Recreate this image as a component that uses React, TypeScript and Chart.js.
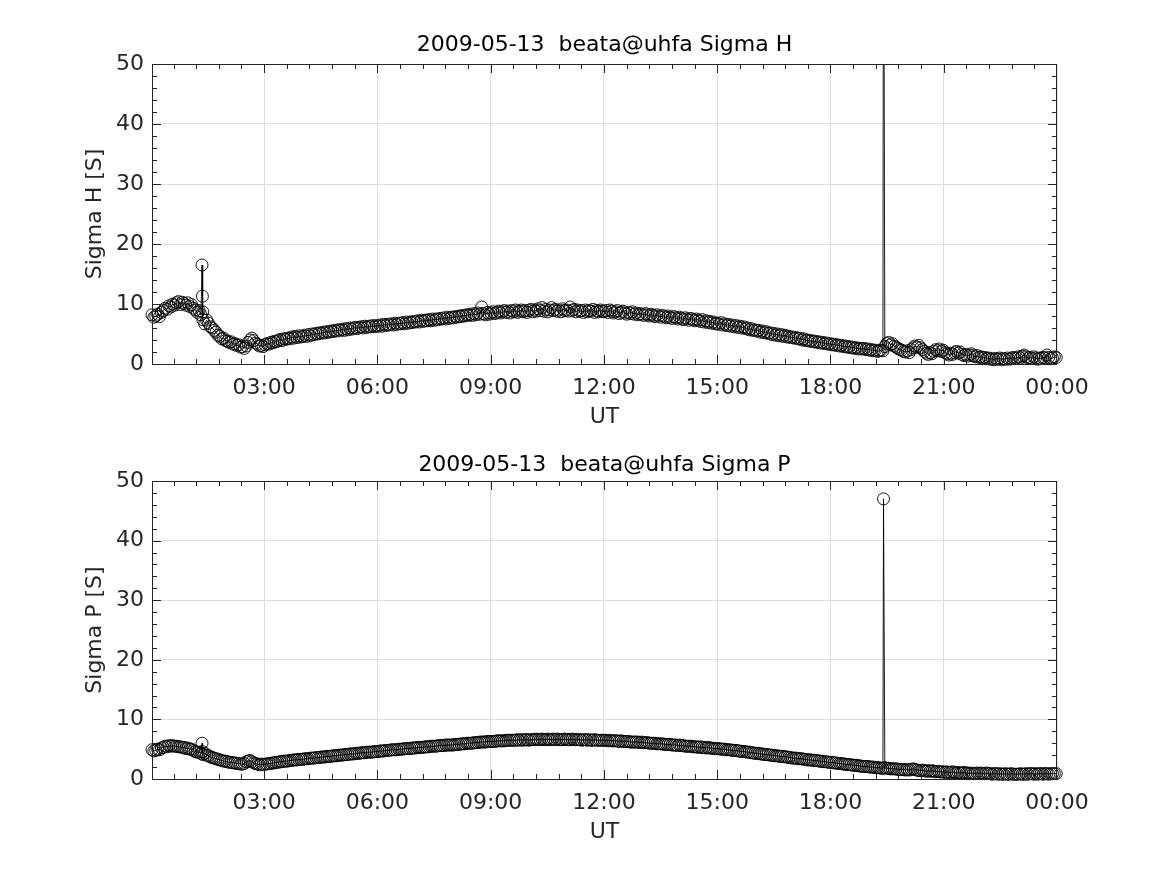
import React, { useEffect, useRef } from "react";
import { Chart, registerables } from "chart.js";

Chart.register(...registerables);

// Sample grid (hours UT), ~3 minute samples
const T_START = 0.03;
const T_END = 23.98;

// Sigma H [S] (481 values, 20 per hour)
const sigmaH = [
  8.2, 7.8, 8.0, 8.3, 7.9, 8.6, 8.9, 9.3, 9.1, 9.7, 9.5, 10.0, 9.8, 10.2, 10.4, 9.9, 10.3, 10.1, 9.8, 10.2,
  9.6, 9.9, 9.3, 9.0, 8.6, 8.9, 8.2, 7.4, 6.7, 7.3, 6.8, 6.2, 6.0, 5.6, 5.3, 4.8, 4.6, 4.2, 4.3, 3.9,
  3.8, 3.6, 3.7, 3.3, 3.4, 3.1, 3.2, 2.8, 2.9, 2.6, 3.0, 3.6, 4.0, 4.3, 3.9, 3.5, 3.3, 3.0, 3.1, 2.9,
  3.2, 3.4, 3.3, 3.6, 3.5, 3.8, 3.7, 3.9, 4.1, 3.9, 4.2, 4.1, 4.3, 4.2, 4.5, 4.3, 4.6, 4.4, 4.7, 4.5,
  4.6, 4.8, 4.6, 4.9, 4.7, 5.0, 4.9, 5.1, 5.0, 5.2, 5.1, 5.3, 5.2, 5.4, 5.3, 5.5, 5.4, 5.6, 5.5, 5.7,
  5.6, 5.8, 5.6, 5.9, 5.7, 6.0, 5.8, 6.0, 6.1, 5.9, 6.1, 6.2, 6.0, 6.3, 6.1, 6.3, 6.2, 6.4, 6.2, 6.4,
  6.3, 6.5, 6.3, 6.6, 6.4, 6.6, 6.5, 6.7, 6.5, 6.8, 6.6, 6.8, 6.7, 6.9, 6.7, 7.0, 6.8, 7.0, 6.9, 7.1,
  7.0, 7.2, 7.0, 7.3, 7.1, 7.3, 7.2, 7.4, 7.2, 7.5, 7.3, 7.5, 7.4, 7.6, 7.5, 7.7, 7.5, 7.8, 7.6, 7.8,
  7.7, 7.9, 7.8, 8.0, 7.9, 8.1, 8.0, 8.2, 8.1, 8.3, 8.1, 8.4, 8.2, 8.5, 8.3, 9.5, 8.4, 8.2, 8.6, 8.3,
  8.5, 8.7, 8.4, 8.6, 8.8, 8.5, 8.7, 8.9, 8.6, 8.8, 8.5, 8.9, 8.7, 9.0, 8.6, 8.8, 9.0, 8.7, 8.9, 8.6,
  8.9, 9.1, 8.7, 9.0, 8.8, 9.2, 8.9, 9.4, 8.8, 9.1, 8.7, 9.0, 9.4, 8.9, 9.1, 8.8, 9.0, 8.7, 9.2, 8.9,
  9.0, 8.8, 9.5, 8.9, 9.1, 8.7, 9.0, 8.8, 8.9, 8.6, 9.0, 8.7, 8.9, 8.8, 9.1, 8.6, 8.9, 8.7, 9.0, 8.8,
  8.7, 8.9, 8.6, 9.0, 8.8, 8.5, 8.7, 8.9, 8.4, 8.6, 8.8, 8.5, 8.3, 8.6, 8.4, 8.7, 8.3, 8.5, 8.2, 8.4,
  8.3, 8.1, 8.4, 8.2, 8.0, 8.3, 8.1, 7.9, 8.2, 8.0, 7.8, 8.1, 7.9, 7.7, 8.0, 7.8, 7.6, 7.9, 7.7, 7.5,
  7.8, 7.6, 7.4, 7.7, 7.5, 7.3, 7.6, 7.4, 7.2, 7.5, 7.3, 7.1, 7.4, 7.0, 7.2, 6.9, 7.1, 6.8, 7.0, 6.7,
  6.8, 6.6, 6.9, 6.5, 6.7, 6.4, 6.6, 6.3, 6.5, 6.2, 6.4, 6.1, 6.3, 6.0, 6.2, 5.9, 6.0, 5.7, 5.9, 5.6,
  5.7, 5.5, 5.6, 5.3, 5.5, 5.2, 5.4, 5.1, 5.2, 4.9, 5.1, 4.8, 5.0, 4.7, 4.9, 4.6, 4.8, 4.5, 4.6, 4.4,
  4.5, 4.3, 4.4, 4.2, 4.3, 4.0, 4.2, 3.9, 4.0, 3.8, 3.9, 3.7, 3.8, 3.6, 3.7, 3.5, 3.6, 3.4, 3.5, 3.3,
  3.4, 3.2, 3.3, 3.1, 3.2, 3.0, 3.1, 2.9, 3.0, 2.8, 2.9, 2.7, 2.8, 2.6, 2.7, 2.5, 2.6, 2.5, 2.6, 2.4,
  2.5, 2.3, 2.4, 2.2, 2.3, 2.1, 2.2, 2.3, 2.2, 2.9, 3.4, 3.6, 3.2, 3.4, 3.0, 2.8, 2.6, 2.4, 2.3, 2.1,
  2.0, 2.2, 1.9, 2.4, 2.7, 3.0, 2.8, 3.1, 2.7, 2.4, 2.1, 1.8, 1.6, 1.9, 1.7, 2.1, 2.4, 2.2, 2.5, 2.1,
  2.3, 1.9, 1.7, 1.5, 1.8, 1.6, 1.9, 2.1, 1.8, 2.0, 1.6, 1.4, 1.6, 1.3, 1.5, 1.7, 1.4, 1.2, 1.4, 1.1,
  1.2, 1.0, 1.1, 0.9, 1.0, 0.8, 0.9, 0.7, 0.9, 0.8, 1.0, 0.7, 0.9, 0.8, 1.0, 0.8, 0.9, 1.1, 0.9, 1.0,
  1.2, 1.0, 1.3, 1.5, 1.2, 1.0, 1.1, 0.9, 1.2, 1.0, 0.8, 1.0, 0.9, 1.1, 1.0, 1.5, 1.1, 0.9, 1.0, 1.2,
  1.1,
];

// Sigma P [S] (481 values, 20 per hour)
const sigmaP = [
  4.9, 4.7, 4.8, 5.0, 4.9, 5.2, 5.3, 5.5, 5.4, 5.6, 5.5, 5.6, 5.5, 5.5, 5.4, 5.4, 5.3, 5.3, 5.1, 5.2,
  5.0, 5.0, 4.8, 4.6, 4.5, 4.5, 4.3, 4.1, 4.3, 4.0, 3.9, 3.7, 3.6, 3.5, 3.4, 3.3, 3.2, 3.1, 3.0, 3.0,
  2.9, 2.8, 2.8, 2.7, 2.7, 2.6, 2.6, 2.5, 2.5, 2.6, 2.9, 3.0, 3.1, 2.9, 2.7, 2.6, 2.5, 2.4, 2.5, 2.4,
  2.5, 2.5, 2.6, 2.6, 2.7, 2.7, 2.8, 2.8, 2.9, 2.9, 3.0, 3.0, 3.0, 3.1, 3.1, 3.2, 3.2, 3.2, 3.3, 3.3,
  3.3, 3.4, 3.4, 3.4, 3.5, 3.5, 3.5, 3.6, 3.6, 3.6, 3.7, 3.7, 3.7, 3.8, 3.8, 3.8, 3.9, 3.9, 3.9, 4.0,
  4.0, 4.0, 4.1, 4.1, 4.1, 4.2, 4.2, 4.2, 4.3, 4.3, 4.3, 4.4, 4.4, 4.4, 4.5, 4.5, 4.5, 4.5, 4.6, 4.6,
  4.6, 4.7, 4.7, 4.7, 4.8, 4.8, 4.8, 4.9, 4.9, 4.9, 4.9, 5.0, 5.0, 5.0, 5.1, 5.1, 5.1, 5.1, 5.2, 5.2,
  5.2, 5.3, 5.3, 5.3, 5.3, 5.4, 5.4, 5.4, 5.5, 5.5, 5.5, 5.5, 5.6, 5.6, 5.6, 5.6, 5.7, 5.7, 5.7, 5.7,
  5.7, 5.8, 5.8, 5.8, 5.9, 5.9, 5.9, 6.0, 6.0, 6.0, 6.0, 6.1, 6.1, 6.1, 6.2, 6.2, 6.2, 6.2, 6.3, 6.3,
  6.3, 6.3, 6.3, 6.4, 6.4, 6.4, 6.4, 6.4, 6.5, 6.5, 6.5, 6.5, 6.5, 6.5, 6.6, 6.5, 6.6, 6.5, 6.6, 6.6,
  6.5, 6.6, 6.6, 6.6, 6.7, 6.6, 6.6, 6.7, 6.6, 6.6, 6.7, 6.6, 6.6, 6.7, 6.6, 6.7, 6.6, 6.6, 6.6, 6.7,
  6.6, 6.6, 6.6, 6.7, 6.6, 6.6, 6.6, 6.6, 6.5, 6.6, 6.6, 6.5, 6.6, 6.5, 6.5, 6.6, 6.5, 6.5, 6.5, 6.5,
  6.5, 6.5, 6.4, 6.5, 6.4, 6.4, 6.4, 6.4, 6.3, 6.4, 6.3, 6.3, 6.3, 6.3, 6.2, 6.2, 6.2, 6.2, 6.2, 6.1,
  6.2, 6.1, 6.1, 6.1, 6.0, 6.0, 6.0, 6.0, 5.9, 5.9, 5.9, 5.9, 5.8, 5.8, 5.8, 5.8, 5.7, 5.7, 5.7, 5.6,
  5.7, 5.6, 5.6, 5.5, 5.5, 5.5, 5.5, 5.4, 5.4, 5.4, 5.3, 5.4, 5.3, 5.3, 5.2, 5.3, 5.2, 5.2, 5.1, 5.1,
  5.1, 5.1, 5.0, 5.0, 5.0, 4.9, 4.9, 4.9, 4.8, 4.8, 4.8, 4.7, 4.7, 4.6, 4.6, 4.6, 4.5, 4.5, 4.4, 4.4,
  4.3, 4.3, 4.3, 4.2, 4.2, 4.1, 4.1, 4.1, 4.0, 4.0, 3.9, 3.9, 3.9, 3.8, 3.8, 3.8, 3.7, 3.7, 3.6, 3.6,
  3.5, 3.5, 3.5, 3.4, 3.4, 3.4, 3.3, 3.3, 3.2, 3.2, 3.2, 3.1, 3.1, 3.1, 3.0, 3.0, 2.9, 2.9, 2.9, 2.8,
  2.8, 2.8, 2.7, 2.7, 2.6, 2.6, 2.6, 2.5, 2.5, 2.4, 2.4, 2.4, 2.3, 2.3, 2.3, 2.2, 2.2, 2.1, 2.1, 2.1,
  2.1, 2.0, 2.0, 2.0, 1.9, 1.9, 1.9, 1.8, 1.8, 1.9, 1.8, 1.8, 1.7, 1.7, 1.7, 1.7, 1.6, 1.6, 1.6, 1.6,
  1.5, 1.6, 1.5, 1.6, 1.7, 1.6, 1.5, 1.4, 1.4, 1.5, 1.4, 1.3, 1.4, 1.3, 1.4, 1.3, 1.2, 1.3, 1.2, 1.2,
  1.2, 1.1, 1.2, 1.1, 1.1, 1.2, 1.1, 1.0, 1.1, 1.0, 1.0, 1.1, 1.0, 1.0, 0.9, 1.0, 0.9, 0.9, 1.0, 0.9,
  1.0, 0.9, 0.9, 1.0, 0.9, 0.9, 0.8, 0.9, 0.9, 0.8, 0.9, 0.8, 0.8, 0.9, 0.8, 0.8, 0.9, 0.8, 0.8, 0.8,
  0.8, 0.9, 0.8, 0.8, 0.9, 0.8, 0.9, 0.9, 0.8, 0.9, 0.8, 0.9, 0.9, 0.8, 0.9, 0.9, 0.8, 0.9, 0.9, 0.9,
  0.9,
];

// Isolated outliers (hours UT, value)
const spikeTimesH = [1.355, 1.365, 1.375, 19.405];
const spikeValuesH = [16.5, 11.3, 8.7, 95];
const spikeTimesP = [1.355, 1.365, 19.405];
const spikeValuesP = [6.0, 4.6, 47.0];

const xTickHours = [3, 6, 9, 12, 15, 18, 21, 24];
const xTickLabels = ["03:00", "06:00", "09:00", "12:00", "15:00", "18:00", "21:00", "00:00"];
const yTickValues = [0, 10, 20, 30, 40, 50];

const FONT = "'DejaVu Sans', sans-serif";
const AXIS_COLOR = "#262626";

function buildPoints(values: number[], spikeT: number[], spikeV: number[]) {
  const step = (T_END - T_START) / (values.length - 1);
  const pts = values.map((v, i) => ({ x: T_START + i * step, y: v }));
  spikeT.forEach((t, i) => pts.push({ x: t, y: spikeV[i] }));
  pts.sort((a, b) => a.x - b.x);
  return pts;
}

const matlabAxes = {
  id: "matlabAxes",
  afterDatasetsDraw(chart: any) {
    const { ctx, chartArea: a, scales } = chart;
    const x = scales.x;
    const y = scales.y;
    ctx.save();
    ctx.strokeStyle = AXIS_COLOR;
    ctx.lineWidth = 1;
    ctx.beginPath();
    const xMin = x.min;
    const xMax = x.max;
    for (let k = 1; k * 0.6 < xMax; k++) {
      const h = k * 0.6;
      if (h <= xMin) continue;
      const px = Math.round(x.getPixelForValue(h)) + 0.5;
      const len = Math.abs(h / 3 - Math.round(h / 3)) < 1e-6 ? 9 : 5;
      ctx.moveTo(px, a.bottom);
      ctx.lineTo(px, a.bottom - len);
      ctx.moveTo(px, a.top);
      ctx.lineTo(px, a.top + len);
    }
    for (let v = 2; v < 50; v += 2) {
      const py = Math.round(y.getPixelForValue(v)) + 0.5;
      const len = v % 10 === 0 ? 9 : 5;
      ctx.moveTo(a.left, py);
      ctx.lineTo(a.left + len, py);
      ctx.moveTo(a.right, py);
      ctx.lineTo(a.right - len, py);
    }
    ctx.stroke();
    ctx.strokeRect(Math.round(a.left) + 0.5, Math.round(a.top) + 0.5, Math.round(a.right - a.left) - 1, Math.round(a.bottom - a.top));
    ctx.restore();
  },
};

function makeChart(
  canvas: HTMLCanvasElement,
  title: string,
  yLabel: string,
  points: { x: number; y: number }[],
  titlePad: { top: number; bottom: number },
  bottomPad: number
) {
  return new Chart(canvas, {
    type: "line",
    data: {
      datasets: [
        {
          data: points,
          borderColor: "#000000",
          borderWidth: 0.9,
          pointRadius: 6,
          pointBorderWidth: 1,
          pointBorderColor: "rgba(0,0,0,0.9)",
          pointBackgroundColor: "rgba(0,0,0,0)",
          pointStyle: "circle",
          fill: false,
          tension: 0,
          clip: { left: 8, right: 8, top: 0, bottom: 8 } as any,
        },
      ],
    },
    options: {
      responsive: false,
      animation: false,
      devicePixelRatio: 1,
      events: [],
      layout: { padding: { left: 0, right: 110, top: 0, bottom: bottomPad } },
      plugins: {
        legend: { display: false },
        tooltip: { enabled: false },
        title: {
          display: true,
          fullSize: false,
          text: title,
          color: "#000000",
          font: { family: FONT, size: 22, weight: "normal" as any, lineHeight: 1.2 },
          padding: titlePad,
        },
      },
      scales: {
        x: {
          type: "linear",
          min: T_START,
          max: 24,
          afterBuildTicks: (scale: any) => {
            scale.ticks = xTickHours.map((v) => ({ value: v }));
          },
          afterFit: (scale: any) => {
            scale.height = 73;
          },
          ticks: {
            autoSkip: false,
            maxRotation: 0,
            minRotation: 0,
            padding: 11,
            color: AXIS_COLOR,
            font: { family: FONT, size: 22 },
            callback: (value: any) => {
              const i = xTickHours.indexOf(Number(value));
              return i >= 0 ? xTickLabels[i] : "";
            },
          },
          grid: { color: "#dfdfdf", lineWidth: 1, drawTicks: false },
          border: { display: false },
          title: {
            display: true,
            text: "UT",
            color: AXIS_COLOR,
            font: { family: FONT, size: 22, lineHeight: 1.2 },
            padding: { top: 0, bottom: 7 },
          },
        },
        y: {
          type: "linear",
          min: 0,
          max: 50,
          afterBuildTicks: (scale: any) => {
            scale.ticks = yTickValues.map((v) => ({ value: v }));
          },
          afterFit: (scale: any) => {
            scale.width = 152;
          },
          ticks: {
            padding: 8,
            color: AXIS_COLOR,
            font: { family: FONT, size: 22 },
            callback: (value: any) => String(value),
          },
          grid: { color: "#dfdfdf", lineWidth: 1, drawTicks: false },
          border: { display: false },
          title: {
            display: true,
            text: yLabel,
            color: AXIS_COLOR,
            font: { family: FONT, size: 22, lineHeight: 1.2 },
            padding: { top: 82, bottom: 0 },
          },
        },
      },
    },
    plugins: [matlabAxes],
  });
}

export default function App() {
  const topRef = useRef<HTMLCanvasElement | null>(null);
  const botRef = useRef<HTMLCanvasElement | null>(null);

  useEffect(() => {
    const c1 = makeChart(
      topRef.current!,
      "2009-05-13  beata@uhfa Sigma H",
      "Sigma H [S]",
      buildPoints(sigmaH, spikeTimesH, spikeValuesH),
      { top: 31.8, bottom: 5.8 },
      0
    );
    const c2 = makeChart(
      botRef.current!,
      "2009-05-13  beata@uhfa Sigma P",
      "Sigma P [S]",
      buildPoints(sigmaP, spikeTimesP, spikeValuesP),
      { top: 14.8, bottom: 2.8 },
      23
    );
    return () => {
      c1.destroy();
      c2.destroy();
    };
  }, []);

  return (
    <div style={{ position: "absolute", left: 0, top: 0, width: 1167, height: 875, background: "#ffffff" }}>
      <canvas ref={topRef} width={1167} height={437} style={{ display: "block", width: 1167, height: 437 }} />
      <canvas ref={botRef} width={1167} height={438} style={{ display: "block", width: 1167, height: 438 }} />
    </div>
  );
}
